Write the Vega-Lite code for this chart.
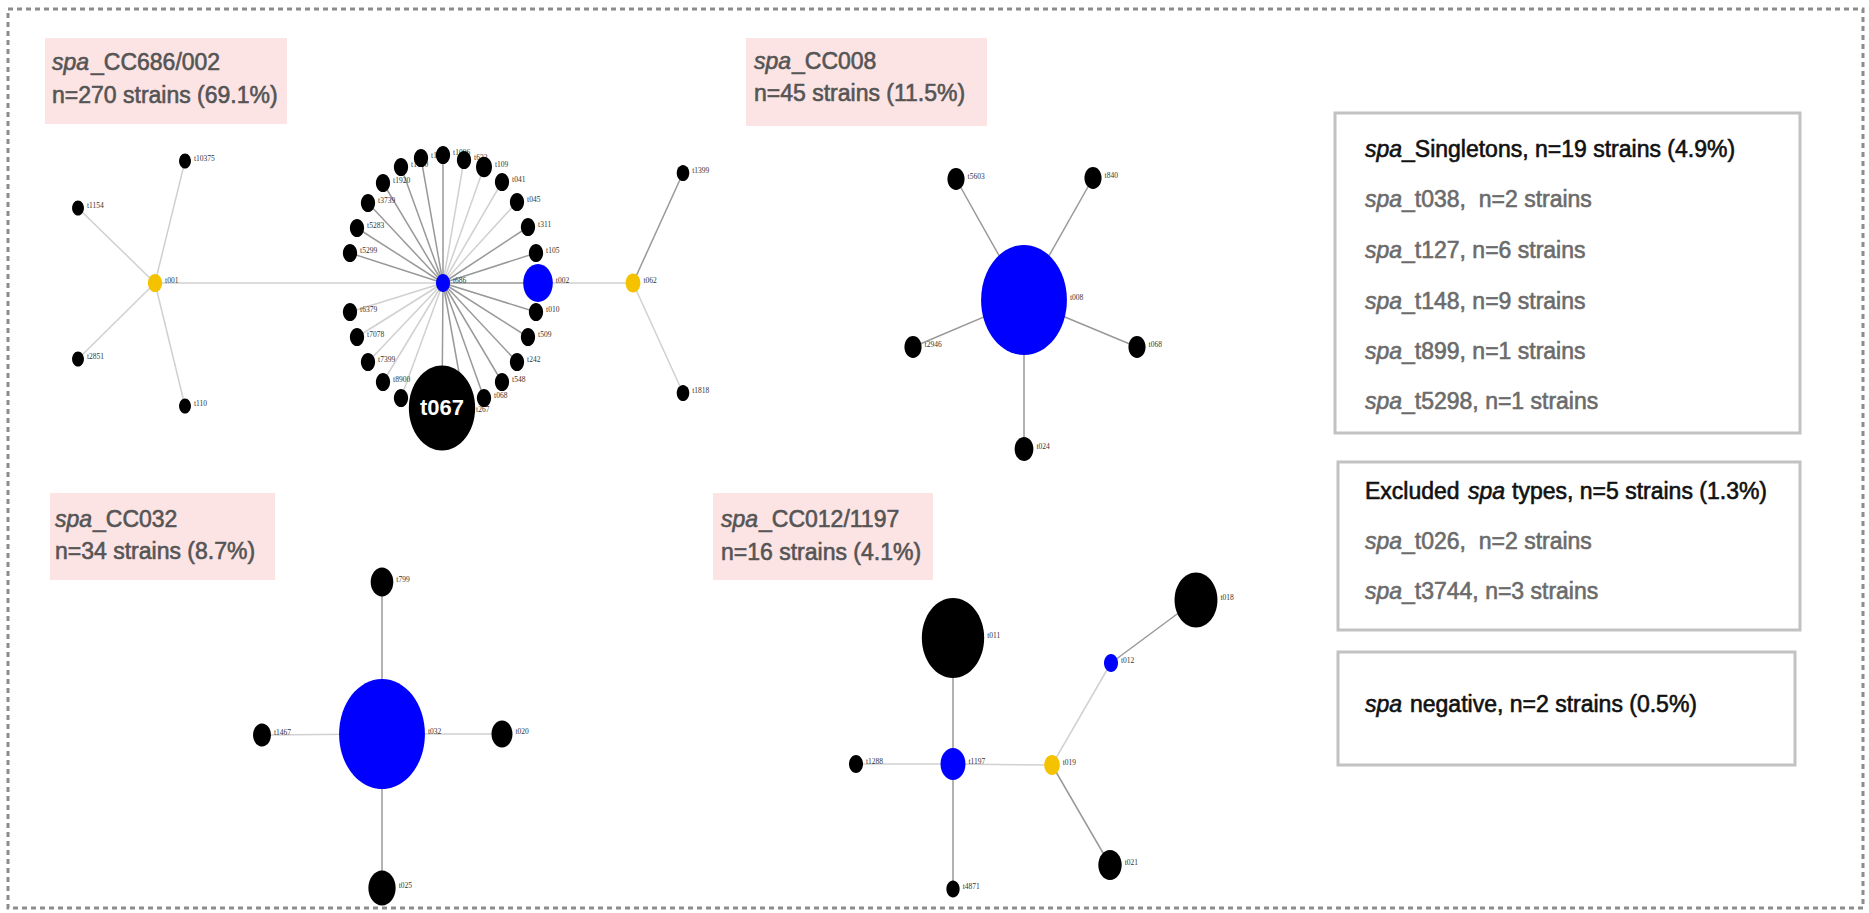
{
  "$schema": "https://vega.github.io/schema/vega-lite/v6.json",
  "width": 1869,
  "height": 913,
  "autosize": {"type": "fit", "contains": "padding"},
  "padding": 0,
  "background": "white",
  "config": {"view": {"stroke": null}},
  "resolve": {"scale": {"color": "independent", "stroke": "independent"}},
  "datasets": {
    "nodes": [
      {"id": "t001", "label": "t001", "kind": "subfounder", "x": 155, "y": 283, "weight": 1.15},
      {"id": "t10375", "label": "t10375", "kind": "type", "x": 185, "y": 161, "weight": 0.8},
      {"id": "t1154", "label": "t1154", "kind": "type", "x": 78, "y": 208, "weight": 0.8},
      {"id": "t2851", "label": "t2851", "kind": "type", "x": 78, "y": 359, "weight": 0.8},
      {"id": "t110", "label": "t110", "kind": "type", "x": 185, "y": 406, "weight": 0.8},
      {"id": "t062", "label": "t062", "kind": "subfounder", "x": 633, "y": 283, "weight": 1.25},
      {"id": "t1399", "label": "t1399", "kind": "type", "x": 683, "y": 173, "weight": 0.9},
      {"id": "t1818", "label": "t1818", "kind": "type", "x": 683, "y": 393, "weight": 0.9},
      {"id": "t5299", "label": "t5299", "kind": "type", "x": 350, "y": 253, "weight": 1.15},
      {"id": "t5283", "label": "t5283", "kind": "type", "x": 357, "y": 228, "weight": 1.15},
      {"id": "t3739", "label": "t3739", "kind": "type", "x": 368, "y": 203, "weight": 1.15},
      {"id": "t1920", "label": "t1920", "kind": "type", "x": 383, "y": 183, "weight": 1.15},
      {"id": "t1610", "label": "t1610", "kind": "type", "x": 401, "y": 167, "weight": 1.15},
      {"id": "t1376", "label": "t1376", "kind": "type", "x": 421, "y": 158, "weight": 1.15},
      {"id": "t1096", "label": "t1096", "kind": "type", "x": 443, "y": 155, "weight": 1.15},
      {"id": "t632", "label": "t632", "kind": "type", "x": 464, "y": 160, "weight": 1.15},
      {"id": "t109", "label": "t109", "kind": "type", "x": 484, "y": 167, "weight": 1.45},
      {"id": "t041", "label": "t041", "kind": "type", "x": 502, "y": 182, "weight": 1.15},
      {"id": "t045", "label": "t045", "kind": "type", "x": 517, "y": 202, "weight": 1.15},
      {"id": "t311", "label": "t311", "kind": "type", "x": 528, "y": 227, "weight": 1.15},
      {"id": "t105", "label": "t105", "kind": "type", "x": 536, "y": 253, "weight": 1.15},
      {"id": "t010", "label": "t010", "kind": "type", "x": 536, "y": 312, "weight": 1.15},
      {"id": "t509", "label": "t509", "kind": "type", "x": 528, "y": 337, "weight": 1.15},
      {"id": "t242", "label": "t242", "kind": "type", "x": 517, "y": 362, "weight": 1.15},
      {"id": "t548", "label": "t548", "kind": "type", "x": 502, "y": 382, "weight": 1.15},
      {"id": "t068", "label": "t068", "kind": "type", "x": 484, "y": 398, "weight": 1.15},
      {"id": "t267", "label": "t267", "kind": "type", "x": 466, "y": 412, "weight": 1.15},
      {"id": "t1451", "label": "", "kind": "type", "x": 401, "y": 398, "weight": 1.15},
      {"id": "t8900", "label": "t8900", "kind": "type", "x": 383, "y": 382, "weight": 1.15},
      {"id": "t7399", "label": "t7399", "kind": "type", "x": 368, "y": 362, "weight": 1.15},
      {"id": "t7078", "label": "t7078", "kind": "type", "x": 357, "y": 337, "weight": 1.15},
      {"id": "t6379", "label": "t6379", "kind": "type", "x": 350, "y": 312, "weight": 1.15},
      {"id": "t002", "label": "t002", "kind": "founder", "x": 538, "y": 283, "weight": 5.0},
      {"id": "t686", "label": "t686", "kind": "founder", "x": 443, "y": 283, "weight": 1.12},
      {"id": "t067", "label": "t067", "kind": "type", "x": 442, "y": 408, "weight": 25},
      {"id": "c8a", "label": "t5603", "kind": "type", "x": 956, "y": 179, "weight": 1.67},
      {"id": "c8b", "label": "t840", "kind": "type", "x": 1093, "y": 178, "weight": 1.67},
      {"id": "c8c", "label": "t2946", "kind": "type", "x": 913, "y": 347, "weight": 1.67},
      {"id": "c8d", "label": "t068", "kind": "type", "x": 1137, "y": 347, "weight": 1.67},
      {"id": "c8e", "label": "t024", "kind": "type", "x": 1024, "y": 449, "weight": 2.0},
      {"id": "t008", "label": "t008", "kind": "founder", "x": 1024, "y": 300, "weight": 41.9},
      {"id": "t799", "label": "t799", "kind": "type", "x": 382, "y": 582, "weight": 2.91},
      {"id": "t1467", "label": "t1467", "kind": "type", "x": 262, "y": 735, "weight": 1.83},
      {"id": "t020", "label": "t020", "kind": "type", "x": 502, "y": 734, "weight": 2.52},
      {"id": "t025", "label": "t025", "kind": "type", "x": 382, "y": 888, "weight": 4.24},
      {"id": "t032", "label": "t032", "kind": "founder", "x": 382, "y": 734, "weight": 41.9},
      {"id": "t011", "label": "t011", "kind": "type", "x": 953, "y": 638, "weight": 22.1},
      {"id": "t1288", "label": "t1288", "kind": "type", "x": 856, "y": 764, "weight": 1.12},
      {"id": "t4871", "label": "t4871", "kind": "type", "x": 953, "y": 889, "weight": 1.0},
      {"id": "t1197", "label": "t1197", "kind": "founder", "x": 953, "y": 764, "weight": 3.54},
      {"id": "t019", "label": "t019", "kind": "subfounder", "x": 1052, "y": 765, "weight": 1.38},
      {"id": "t012", "label": "t012", "kind": "founder", "x": 1111, "y": 663, "weight": 1.12},
      {"id": "t018", "label": "t018", "kind": "type", "x": 1196, "y": 600, "weight": 10.47},
      {"id": "t021", "label": "t021", "kind": "type", "x": 1110, "y": 865, "weight": 3.11}
    ],
    "edges": [
      {"source": "t001", "target": "t686", "tone": "light"},
      {"source": "t001", "target": "t10375", "tone": "light"},
      {"source": "t001", "target": "t1154", "tone": "light"},
      {"source": "t001", "target": "t2851", "tone": "light"},
      {"source": "t001", "target": "t110", "tone": "light"},
      {"source": "t002", "target": "t062", "tone": "light"},
      {"source": "t062", "target": "t1818", "tone": "light"},
      {"source": "t062", "target": "t1399", "tone": "dark"},
      {"source": "t686", "target": "t5299", "tone": "dark"},
      {"source": "t686", "target": "t5283", "tone": "dark"},
      {"source": "t686", "target": "t3739", "tone": "dark"},
      {"source": "t686", "target": "t1920", "tone": "dark"},
      {"source": "t686", "target": "t1610", "tone": "dark"},
      {"source": "t686", "target": "t1376", "tone": "dark"},
      {"source": "t686", "target": "t1096", "tone": "dark"},
      {"source": "t686", "target": "t632", "tone": "light"},
      {"source": "t686", "target": "t109", "tone": "light"},
      {"source": "t686", "target": "t041", "tone": "light"},
      {"source": "t686", "target": "t045", "tone": "light"},
      {"source": "t686", "target": "t311", "tone": "dark"},
      {"source": "t686", "target": "t105", "tone": "dark"},
      {"source": "t686", "target": "t002", "tone": "dark"},
      {"source": "t686", "target": "t010", "tone": "dark"},
      {"source": "t686", "target": "t509", "tone": "dark"},
      {"source": "t686", "target": "t242", "tone": "dark"},
      {"source": "t686", "target": "t548", "tone": "dark"},
      {"source": "t686", "target": "t068", "tone": "dark"},
      {"source": "t686", "target": "t267", "tone": "dark"},
      {"source": "t686", "target": "t067", "tone": "dark"},
      {"source": "t686", "target": "t1451", "tone": "light"},
      {"source": "t686", "target": "t8900", "tone": "light"},
      {"source": "t686", "target": "t7399", "tone": "light"},
      {"source": "t686", "target": "t7078", "tone": "light"},
      {"source": "t686", "target": "t6379", "tone": "light"},
      {"source": "t008", "target": "c8a", "tone": "dark"},
      {"source": "t008", "target": "c8b", "tone": "dark"},
      {"source": "t008", "target": "c8c", "tone": "dark"},
      {"source": "t008", "target": "c8d", "tone": "dark"},
      {"source": "t008", "target": "c8e", "tone": "dark"},
      {"source": "t032", "target": "t799", "tone": "dark"},
      {"source": "t032", "target": "t1467", "tone": "light"},
      {"source": "t032", "target": "t020", "tone": "light"},
      {"source": "t032", "target": "t025", "tone": "dark"},
      {"source": "t1197", "target": "t011", "tone": "dark"},
      {"source": "t1197", "target": "t1288", "tone": "light"},
      {"source": "t1197", "target": "t4871", "tone": "dark"},
      {"source": "t1197", "target": "t019", "tone": "light"},
      {"source": "t019", "target": "t012", "tone": "light"},
      {"source": "t019", "target": "t021", "tone": "dark"},
      {"source": "t012", "target": "t018", "tone": "dark"}
    ],
    "boxes": [
      {"kind": "outer", "x": 8, "y": 9, "x2": 1863, "y2": 908},
      {"kind": "pink", "x": 45, "y": 38, "x2": 287, "y2": 124},
      {"kind": "pink", "x": 746, "y": 38, "x2": 987, "y2": 126},
      {"kind": "pink", "x": 50, "y": 493, "x2": 275, "y2": 580},
      {"kind": "pink", "x": 713, "y": 493, "x2": 933, "y2": 580},
      {"kind": "frame", "x": 1335, "y": 113, "x2": 1800, "y2": 433},
      {"kind": "frame", "x": 1338, "y": 462, "x2": 1800, "y2": 630},
      {"kind": "frame", "x": 1338, "y": 652, "x2": 1795, "y2": 765}
    ],
    "texts": [
      {"x": 52, "y": 63, "t": "spa", "it": true, "role": "title"},
      {"x": 91, "y": 63, "t": "_CC686/002", "it": false, "role": "title"},
      {"x": 52, "y": 96, "t": "n=270 strains (69.1%)", "it": false, "role": "title"},
      {"x": 754, "y": 62, "t": "spa", "it": true, "role": "title"},
      {"x": 792, "y": 62, "t": "_CC008", "it": false, "role": "title"},
      {"x": 754, "y": 94, "t": "n=45 strains (11.5%)", "it": false, "role": "title"},
      {"x": 55, "y": 520, "t": "spa", "it": true, "role": "title"},
      {"x": 93, "y": 520, "t": "_CC032", "it": false, "role": "title"},
      {"x": 55, "y": 552, "t": "n=34 strains (8.7%)", "it": false, "role": "title"},
      {"x": 721, "y": 520, "t": "spa", "it": true, "role": "title"},
      {"x": 759, "y": 520, "t": "_CC012/1197", "it": false, "role": "title"},
      {"x": 721, "y": 553, "t": "n=16 strains (4.1%)", "it": false, "role": "title"},
      {"x": 1365, "y": 150, "t": "spa", "it": true, "role": "header"},
      {"x": 1402, "y": 150, "t": "_Singletons, n=19 strains (4.9%)", "it": false, "role": "header"},
      {"x": 1365, "y": 200, "t": "spa", "it": true, "role": "item"},
      {"x": 1402, "y": 200, "t": "_t038,\u00a0 n=2 strains", "it": false, "role": "item"},
      {"x": 1365, "y": 251, "t": "spa", "it": true, "role": "item"},
      {"x": 1402, "y": 251, "t": "_t127, n=6 strains", "it": false, "role": "item"},
      {"x": 1365, "y": 302, "t": "spa", "it": true, "role": "item"},
      {"x": 1402, "y": 302, "t": "_t148, n=9 strains", "it": false, "role": "item"},
      {"x": 1365, "y": 352, "t": "spa", "it": true, "role": "item"},
      {"x": 1402, "y": 352, "t": "_t899, n=1 strains", "it": false, "role": "item"},
      {"x": 1365, "y": 402, "t": "spa", "it": true, "role": "item"},
      {"x": 1402, "y": 402, "t": "_t5298, n=1 strains", "it": false, "role": "item"},
      {"x": 1365, "y": 492, "t": "Excluded", "it": false, "role": "header"},
      {"x": 1468, "y": 492, "t": "spa", "it": true, "role": "header"},
      {"x": 1512, "y": 492, "t": "types, n=5 strains (1.3%)", "it": false, "role": "header"},
      {"x": 1365, "y": 542, "t": "spa", "it": true, "role": "item"},
      {"x": 1402, "y": 542, "t": "_t026,\u00a0 n=2 strains", "it": false, "role": "item"},
      {"x": 1365, "y": 592, "t": "spa", "it": true, "role": "item"},
      {"x": 1402, "y": 592, "t": "_t3744, n=3 strains", "it": false, "role": "item"},
      {"x": 1365, "y": 705, "t": "spa", "it": true, "role": "header"},
      {"x": 1410, "y": 705, "t": "negative, n=2 strains (0.5%)", "it": false, "role": "header"}
    ]
  },
  "layer": [
    {
      "data": {"name": "boxes"},
      "transform": [{"filter": "datum.kind == 'outer'"}],
      "mark": {"type": "rect", "fill": null, "filled": false, "stroke": "#8c8c8c", "strokeWidth": 3, "strokeDash": [5, 4]},
      "encoding": {
        "x": {"field": "x", "type": "quantitative", "scale": {"domain": [0, 1869], "nice": false, "zero": false}, "axis": null},
        "x2": {"field": "x2"},
        "y": {"field": "y", "type": "quantitative", "scale": {"domain": [0, 913], "nice": false, "zero": false, "reverse": true}, "axis": null},
        "y2": {"field": "y2"}
      }
    },
    {
      "data": {"name": "boxes"},
      "transform": [{"filter": "datum.kind == 'pink'"}],
      "mark": {"type": "rect", "fill": "#fde4e4", "stroke": null},
      "encoding": {
        "x": {"field": "x", "type": "quantitative", "axis": null},
        "x2": {"field": "x2"},
        "y": {"field": "y", "type": "quantitative", "axis": null},
        "y2": {"field": "y2"}
      }
    },
    {
      "data": {"name": "boxes"},
      "transform": [{"filter": "datum.kind == 'frame'"}],
      "mark": {"type": "rect", "fill": "white", "stroke": "#c2c2c2", "strokeWidth": 3},
      "encoding": {
        "x": {"field": "x", "type": "quantitative", "axis": null},
        "x2": {"field": "x2"},
        "y": {"field": "y", "type": "quantitative", "axis": null},
        "y2": {"field": "y2"}
      }
    },
    {
      "data": {"name": "edges"},
      "transform": [
        {"lookup": "source", "from": {"data": {"name": "nodes"}, "key": "id", "fields": ["x", "y"]}, "as": ["sx", "sy"]},
        {"lookup": "target", "from": {"data": {"name": "nodes"}, "key": "id", "fields": ["x", "y"]}, "as": ["tx", "ty"]},
        {"filter": "datum.tone == 'light'"}
      ],
      "mark": {"type": "rule", "color": "#d0d0d0", "strokeWidth": 1.5},
      "encoding": {
        "x": {"field": "sx", "type": "quantitative", "axis": null},
        "y": {"field": "sy", "type": "quantitative", "axis": null},
        "x2": {"field": "tx"},
        "y2": {"field": "ty"}
      }
    },
    {
      "data": {"name": "edges"},
      "transform": [
        {"lookup": "source", "from": {"data": {"name": "nodes"}, "key": "id", "fields": ["x", "y"]}, "as": ["sx", "sy"]},
        {"lookup": "target", "from": {"data": {"name": "nodes"}, "key": "id", "fields": ["x", "y"]}, "as": ["tx", "ty"]},
        {"filter": "datum.tone == 'dark'"}
      ],
      "mark": {"type": "rule", "color": "#999999", "strokeWidth": 1.5},
      "encoding": {
        "x": {"field": "sx", "type": "quantitative", "axis": null},
        "y": {"field": "sy", "type": "quantitative", "axis": null},
        "x2": {"field": "tx"},
        "y2": {"field": "ty"}
      }
    },
    {
      "data": {"name": "nodes"},
      "transform": [
        {"filter": "datum.id != 't067' && datum.label != ''"},
        {"calculate": "datum.x + 0.39 * 17 * sqrt(datum.weight) + 3", "as": "lx"}
      ],
      "mark": {"type": "text", "font": "Liberation Serif", "fontSize": 7.5, "color": "#333333", "align": "left", "baseline": "middle", "dy": -2},
      "encoding": {
        "x": {"field": "lx", "type": "quantitative", "axis": null},
        "y": {"field": "y", "type": "quantitative", "axis": null},
        "text": {"field": "label"}
      }
    },
    {
      "data": {"name": "nodes"},
      "mark": {"type": "point", "shape": "M0,-1A0.78,1 0 1,1 0,1A0.78,1 0 1,1 0,-1Z", "filled": true, "opacity": 1, "strokeWidth": 0},
      "encoding": {
        "x": {"field": "x", "type": "quantitative", "axis": null},
        "y": {"field": "y", "type": "quantitative", "axis": null},
        "size": {"field": "weight", "type": "quantitative", "scale": {"type": "linear", "domain": [0, 1], "range": [0, 289]}, "legend": null},
        "color": {"field": "kind", "type": "nominal", "scale": {"domain": ["founder", "subfounder", "type"], "range": ["#0000ff", "#f5c200", "#000000"]}, "legend": null}
      }
    },
    {
      "data": {"name": "nodes"},
      "transform": [{"filter": "datum.id == 't067'"}],
      "mark": {"type": "text", "font": "Liberation Sans", "fontSize": 22, "fontWeight": "bold", "color": "white", "align": "center", "baseline": "middle"},
      "encoding": {
        "x": {"field": "x", "type": "quantitative", "axis": null},
        "y": {"field": "y", "type": "quantitative", "axis": null},
        "text": {"field": "label"}
      }
    },
    {
      "data": {"name": "texts"},
      "transform": [{"filter": "datum.it"}],
      "mark": {"type": "text", "font": "Liberation Sans", "fontSize": 23, "fontStyle": "italic", "align": "left", "baseline": "middle", "strokeWidth": 0.6},
      "encoding": {
        "x": {"field": "x", "type": "quantitative", "axis": null},
        "y": {"field": "y", "type": "quantitative", "axis": null},
        "text": {"field": "t"},
        "color": {"field": "role", "type": "nominal", "scale": {"domain": ["title", "header", "item"], "range": ["#555555", "#111111", "#6b6b6b"]}, "legend": null},
        "stroke": {"field": "role", "type": "nominal", "scale": {"domain": ["title", "header", "item"], "range": ["#555555", "#111111", "#6b6b6b"]}, "legend": null}
      }
    },
    {
      "data": {"name": "texts"},
      "transform": [{"filter": "!datum.it"}],
      "mark": {"type": "text", "font": "Liberation Sans", "fontSize": 23, "align": "left", "baseline": "middle", "strokeWidth": 0.6},
      "encoding": {
        "x": {"field": "x", "type": "quantitative", "axis": null},
        "y": {"field": "y", "type": "quantitative", "axis": null},
        "text": {"field": "t"},
        "color": {"field": "role", "type": "nominal", "scale": {"domain": ["title", "header", "item"], "range": ["#555555", "#111111", "#6b6b6b"]}, "legend": null},
        "stroke": {"field": "role", "type": "nominal", "scale": {"domain": ["title", "header", "item"], "range": ["#555555", "#111111", "#6b6b6b"]}, "legend": null}
      }
    }
  ]
}
